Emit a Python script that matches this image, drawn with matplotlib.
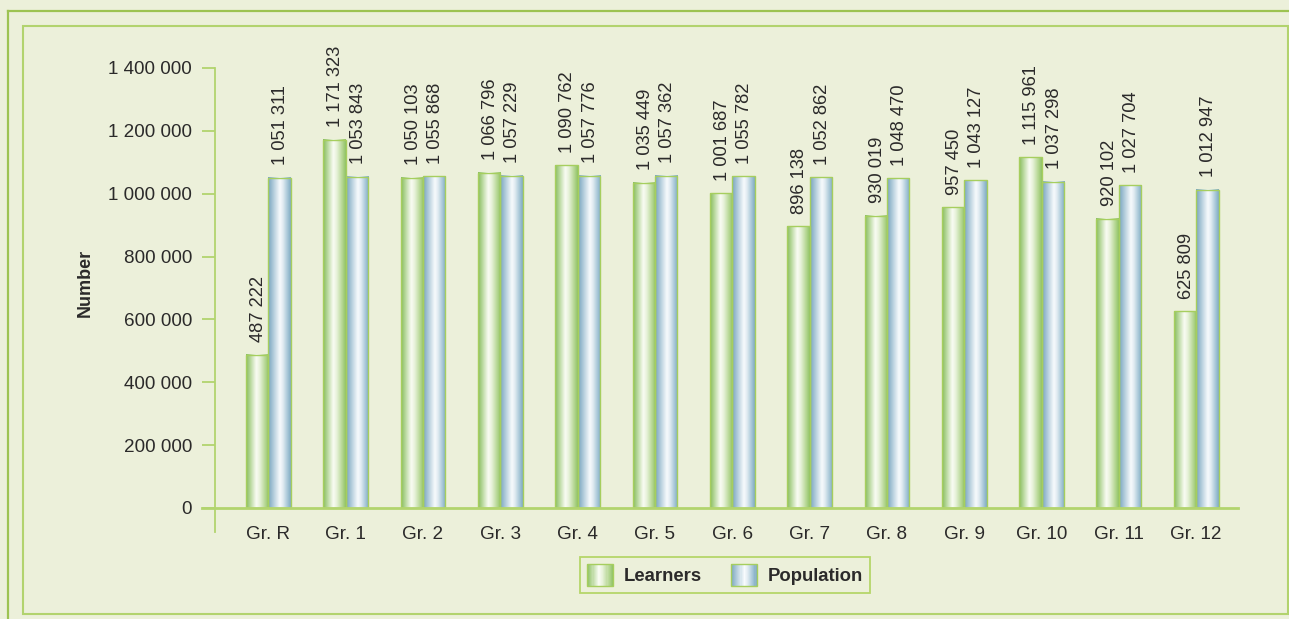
import numpy as np
import matplotlib
matplotlib.use("Agg")
import matplotlib.pyplot as plt
from matplotlib.colors import LinearSegmentedColormap
from matplotlib.patches import Rectangle
from matplotlib.lines import Line2D
from matplotlib.legend_handler import HandlerBase

plt.rcParams['font.family'] = ['Liberation Sans', 'DejaVu Sans']

grades = ['Gr. R', 'Gr. 1', 'Gr. 2', 'Gr. 3', 'Gr. 4', 'Gr. 5', 'Gr. 6',
          'Gr. 7', 'Gr. 8', 'Gr. 9', 'Gr. 10', 'Gr. 11', 'Gr. 12']
learners = [487222, 1171323, 1050103, 1066796, 1090762, 1035449, 1001687,
            896138, 930019, 957450, 1115961, 920102, 625809]
population = [1051311, 1053843, 1055868, 1057229, 1057776, 1057362, 1055782,
              1052862, 1048470, 1043127, 1037298, 1027704, 1012947]
yticks = [0, 200000, 400000, 600000, 800000, 1000000, 1200000, 1400000]

W, H = 1289, 619
bg = '#ECF0DA'
frame = '#B2D46E'
txt = '#2B2A2A'

green_cm = LinearSegmentedColormap.from_list(
    'g', [(0, '#88BE5E'), (0.45, '#FAFCF4'), (0.6, '#E8F2DA'), (0.9, '#A9D082'), (1, '#8EC266')])
blue_cm = LinearSegmentedColormap.from_list(
    'b', [(0, '#78A5BF'), (0.52, '#F8FBFD'), (0.65, '#E2ECF2'), (0.9, '#9BBFD2'), (1, '#80AAC2')])

def fx(x):
    return x / W

def fy(y):
    return 1 - y / H

fig = plt.figure(figsize=(W / 100, H / 100), dpi=100, facecolor=bg)

# frame lines
fig.add_artist(Line2D([fx(8), 1], [fy(11), fy(11)], color='#9DC352', lw=1.6,
                      transform=fig.transFigure))
fig.add_artist(Line2D([fx(8), fx(8)], [fy(11), 0], color='#9DC352', lw=1.6,
                      transform=fig.transFigure))
fig.add_artist(Rectangle((fx(23), fy(614)), fx(1288) - fx(23), fy(26) - fy(614),
                         fill=False, edgecolor='#B2D36E', lw=1.5,
                         transform=fig.transFigure))

ax = fig.add_axes([fx(215), fy(508), fx(1238) - fx(215), fy(68) - fy(508)])
ax.set_facecolor('none')

x = np.arange(len(grades))
w = 0.29
grad = np.linspace(0, 1, 64).reshape(1, -1)

def grad_bars(xs, hs, cmap):
    for xc, h in zip(xs, hs):
        x0, x1 = xc - w / 2, xc + w / 2
        ax.imshow(grad, cmap=cmap, extent=[x0, x1, 0, h], aspect='auto',
                  interpolation='bicubic', zorder=2)
        ax.add_patch(Rectangle((x0, 0), w, h, fill=False, edgecolor='#A6CE5E',
                               lw=1.0, zorder=3))

grad_bars(x - w / 2, learners, green_cm)
grad_bars(x + w / 2, population, blue_cm)

def fmt(v):
    return f'{v:,}'.replace(',', ' ')

for xc, h in zip(x - w / 2, learners):
    ax.annotate(fmt(h), (xc, h), xytext=(1, 9), textcoords='offset points',
                rotation=90, ha='center', va='bottom', fontsize=13.2, color=txt)
for xc, h in zip(x + w / 2, population):
    ax.annotate(fmt(h), (xc, h), xytext=(1, 9), textcoords='offset points',
                rotation=90, ha='center', va='bottom', fontsize=13.2, color=txt)

ax.set_xlim(-0.69, 12.54)
ax.set_ylim(0, 1400000)

for s in ax.spines.values():
    s.set_visible(False)
ax.axvline(-0.69, ymin=-24 / 440, ymax=1, color=frame, lw=1.3, clip_on=False)
ax.axhline(0, xmin=-13 / 1023, xmax=1, color=frame, lw=2.0, clip_on=False, zorder=4)

ax.set_yticks(yticks)
ax.set_yticklabels([fmt(v) for v in yticks])
ax.tick_params(axis='y', length=9.4, width=1.3, color=frame, pad=7,
               labelsize=13.6, labelcolor=txt)
ax.set_xticks(x)
ax.set_xticklabels(grades)
ax.tick_params(axis='x', length=0, pad=13, labelsize=13.6, labelcolor=txt)

fig.text(fx(85), fy(283), 'Number', rotation=90, ha='center', va='center',
         fontsize=13, fontweight='bold', color=txt)


class GradHandler(HandlerBase):
    def __init__(self, cmap):
        super().__init__()
        self.cmap = cmap

    def create_artists(self, legend, orig_handle, xdescent, ydescent,
                       width, height, fontsize, trans):
        n = 24
        arts = []
        for i in range(n):
            arts.append(Rectangle((-xdescent + width * i / n, -ydescent),
                                  width / n + 0.3, height,
                                  facecolor=self.cmap((i + 0.5) / n),
                                  edgecolor='none', transform=trans))
        arts.append(Rectangle((-xdescent, -ydescent), width, height, fill=False,
                              edgecolor='#A6CE5E', lw=1.0, transform=trans))
        return arts


h1 = Rectangle((0, 0), 1, 1)
h2 = Rectangle((0, 0), 1, 1)
leg = fig.legend([h1, h2], ['Learners', 'Population'], loc='center',
                 bbox_to_anchor=(fx(725), fy(575)), ncol=2, frameon=True,
                 fancybox=False, handler_map={h1: GradHandler(green_cm),
                                              h2: GradHandler(blue_cm)},
                 prop={'size': 13.3, 'weight': 'bold'}, handlelength=1.4,
                 handleheight=1.4, handletextpad=0.6, columnspacing=1.55,
                 borderpad=0.4)
leg.get_frame().set_edgecolor('#A8CF4E')
leg.get_frame().set_facecolor(bg)
leg.get_frame().set_linewidth(1.3)
for t in leg.get_texts():
    t.set_color(txt)

fig.savefig('out.png', dpi=100, facecolor=bg)
